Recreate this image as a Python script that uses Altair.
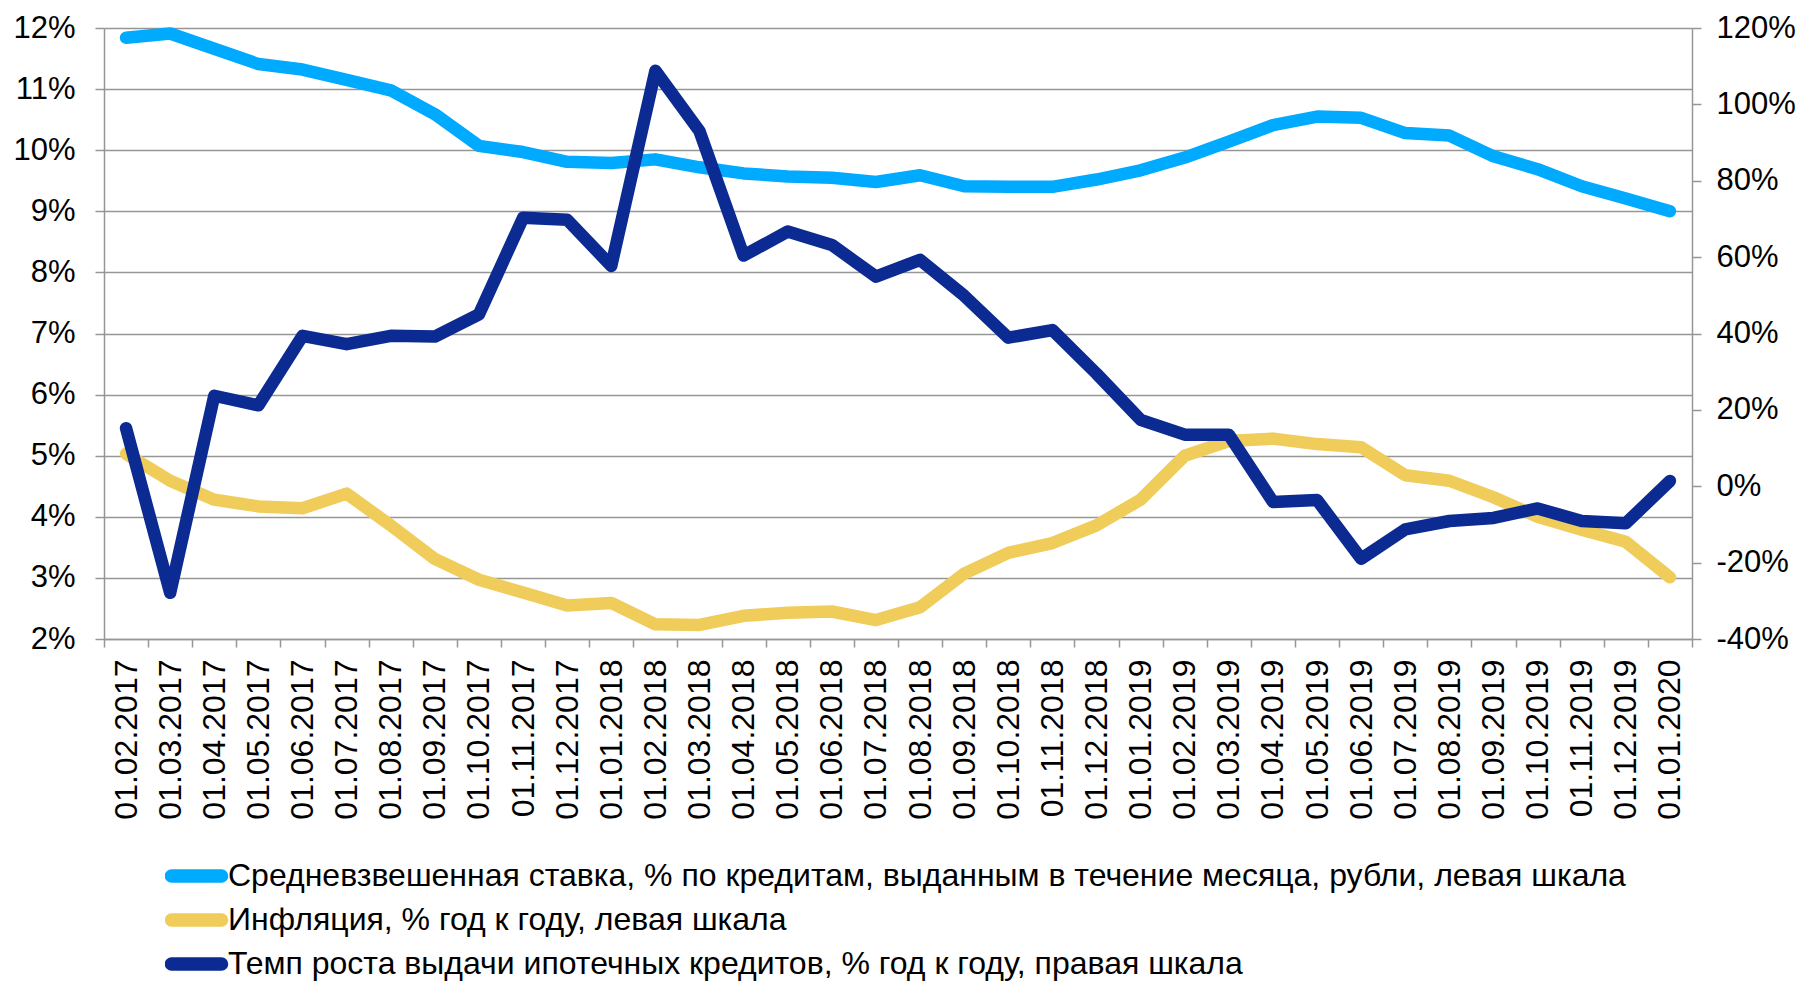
import altair as alt
import pandas as pd

dates = [
    "01.02.2017", "01.03.2017", "01.04.2017", "01.05.2017", "01.06.2017", "01.07.2017",
    "01.08.2017", "01.09.2017", "01.10.2017", "01.11.2017", "01.12.2017", "01.01.2018",
    "01.02.2018", "01.03.2018", "01.04.2018", "01.05.2018", "01.06.2018", "01.07.2018",
    "01.08.2018", "01.09.2018", "01.10.2018", "01.11.2018", "01.12.2018", "01.01.2019",
    "01.02.2019", "01.03.2019", "01.04.2019", "01.05.2019", "01.06.2019", "01.07.2019",
    "01.08.2019", "01.09.2019", "01.10.2019", "01.11.2019", "01.12.2019", "01.01.2020",
]

rate = [11.84, 11.91, 11.66, 11.41, 11.32, 11.15, 10.98, 10.59, 10.07, 9.97, 9.81, 9.79,
        9.85, 9.72, 9.62, 9.57, 9.55, 9.48, 9.59, 9.41, 9.40, 9.40, 9.52, 9.67,
        9.88, 10.14, 10.41, 10.55, 10.53, 10.28, 10.24, 9.90, 9.69, 9.41, 9.21, 9.00]

inflation = [5.03, 4.59, 4.28, 4.17, 4.14, 4.38, 3.86, 3.31, 2.97, 2.76, 2.55, 2.59,
             2.24, 2.23, 2.38, 2.43, 2.45, 2.31, 2.52, 3.07, 3.41, 3.57, 3.86, 4.28,
             5.00, 5.24, 5.28, 5.19, 5.14, 4.68, 4.59, 4.32, 4.00, 3.79, 3.59, 3.01]

mortgage = [15.2, -27.9, 23.7, 21.2, 39.4, 37.2, 39.4, 39.2, 45.0, 70.3, 69.8, 57.7,
            108.8, 93.0, 60.4, 66.7, 63.2, 54.9, 59.3, 49.9, 38.9, 40.9, 29.5, 17.4,
            13.5, 13.5, -4.1, -3.6, -19.0, -11.3, -9.1, -8.3, -5.8, -9.1, -9.7, 1.4]

series_names = [
    "Средневзвешенная ставка, % по кредитам, выданным в течение месяца, рубли, левая шкала",
    "Инфляция, % год к году, левая шкала",
    "Темп роста выдачи ипотечных кредитов, % год к году, правая шкала",
]
series_colors = ["#00AAFF", "#F0CC5A", "#0B2A92"]

left_ticks = [2, 3, 4, 5, 6, 7, 8, 9, 10, 11, 12]
right_ticks = [-40, -20, 0, 20, 40, 60, 80, 100, 120]

df_rate = pd.DataFrame({"date": dates, "value": rate, "series": series_names[0]})
df_infl = pd.DataFrame({"date": dates, "value": inflation, "series": series_names[1]})
df_mort = pd.DataFrame({"date": dates, "value": mortgage, "series": series_names[2]})

FONT = "Liberation Sans"
GRID = "#969696"
# thin pill outline; stroked wide it gives a bar with rounded ends
PILL = ("M -1 -0.01 L 1 -0.01 A 0.01 0.01 0 0 1 1 0.01 "
        "L -1 0.01 A 0.01 0.01 0 0 1 -1 -0.01 Z")

x_enc = alt.X(
    "date:N", sort=dates,
    scale=alt.Scale(type="band", paddingInner=0, paddingOuter=0),
    axis=alt.Axis(title=None, labelAngle=-90, tickBand="extent", tickSize=8,
                  labelPadding=12, grid=False, labelFontSize=32),
)

color_enc = alt.Color(
    "series:N",
    scale=alt.Scale(domain=series_names, range=series_colors),
    legend=alt.Legend(
        orient="none", legendX=61, legendY=830, title=None, direction="vertical",
        symbolType=PILL, symbolSize=2500, symbolStrokeWidth=13,
        labelFontSize=32, labelFont=FONT, labelColor="#000000",
        labelOffset=0, labelLimit=3000, clipHeight=36, rowPadding=8, padding=0,
    ),
)

left_y = alt.Y(
    "value:Q",
    scale=alt.Scale(domain=[2, 12], nice=False, zero=False),
    axis=alt.Axis(title=None, values=left_ticks, labelExpr="datum.value + '%'",
                  grid=True, tickSize=9, labelPadding=20),
)
right_y = alt.Y(
    "value:Q",
    scale=alt.Scale(domain=[-40, 120], nice=False, zero=False),
    axis=alt.Axis(title=None, orient="right", values=right_ticks,
                  labelExpr="datum.value + '%'", grid=False, tickSize=9, labelPadding=15),
)

line_style = dict(strokeWidth=12.5, strokeCap="round", strokeJoin="round")

l_rate = alt.Chart(df_rate).mark_line(**line_style).encode(x=x_enc, y=left_y, color=color_enc)
l_infl = alt.Chart(df_infl).mark_line(**line_style).encode(x=x_enc, y=left_y, color=color_enc)
l_mort = alt.Chart(df_mort).mark_line(**line_style).encode(x=x_enc, y=right_y, color=color_enc)

left = alt.layer(l_rate, l_infl)
chart = (
    alt.layer(left, l_mort)
    .resolve_scale(y="independent")
    .properties(width=1588, height=611, padding={"left": 4, "top": 4, "right": 0, "bottom": 0})
    .configure_view(stroke=None)
    .configure_axis(
        labelFont=FONT, labelFontSize=31, labelColor="#000000",
        domainColor=GRID, domainWidth=1.5, tickColor=GRID, tickWidth=1.5,
        gridColor=GRID, gridWidth=1.5,
    )
)

chart.save("out.html", embed_options={"renderer": "svg", "actions": False})
